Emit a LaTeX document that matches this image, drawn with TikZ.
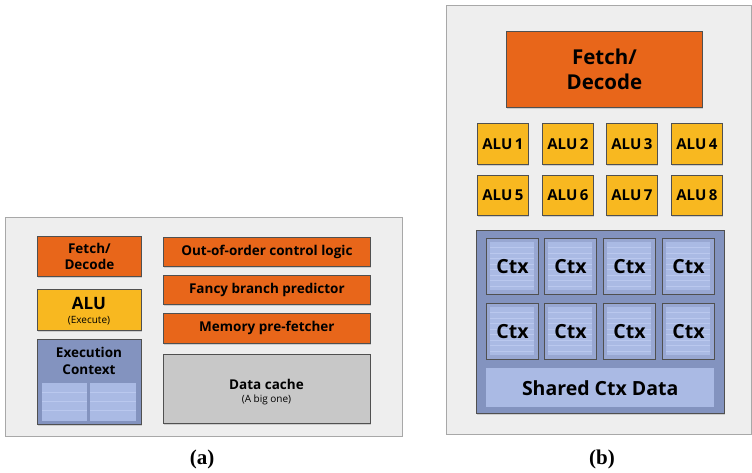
\documentclass[tikz,border=0pt]{standalone}
\usepackage{fontspec}
\setmainfont{Open Sans}
\newfontfamily\capfont{Liberation Serif}
\usetikzlibrary{shadows}
\definecolor{bgc}{HTML}{EEEEEE}
\definecolor{bgline}{HTML}{A8A8A8}
\definecolor{orng}{HTML}{E8661A}
\definecolor{ylw}{HTML}{F8B820}
\definecolor{ctxdark}{HTML}{8393BF}
\definecolor{ctxmid}{HTML}{98A7D2}
\definecolor{ctxlight}{HTML}{AABAE4}
\definecolor{stripe}{HTML}{BAC8EE}
\definecolor{cache}{HTML}{C8C8C8}
\definecolor{edge}{HTML}{505050}
\tikzset{
  panel/.style={draw=bgline, line width=1pt, fill=bgc},
  blk/.style={draw=edge, line width=0.8pt, anchor=north west, inner sep=0pt,
    align=center, font=\bfseries,
    drop shadow={opacity=0.3, shadow xshift=1pt, shadow yshift=-1.2pt}},
  plain/.style={anchor=north west, inner sep=0pt},
  lab/.style={inner sep=0pt, align=center},
  capt/.style={inner sep=0pt, font=\capfont\bfseries\fontsize{21}{23}\selectfont},
  mid/.style={font=\bfseries\fontsize{13.5}{16}\selectfont},
  alut/.style={font=\bfseries\fontsize{15}{17}\selectfont},
  big/.style={font=\bfseries\fontsize{19.5}{21}\selectfont},
  tiny/.style={font=\fontsize{10}{11}\selectfont},
}
\begin{document}
\begin{tikzpicture}[x=1pt,y=-1pt]
\useasboundingbox (0,0) rectangle (752,473);
% ---------- panel (a) ----------
\node[panel, plain, minimum width=397pt, minimum height=219pt] (pa) at (5,217) {};
\node[blk, fill=orng, minimum width=104pt, minimum height=40pt,
  font=\bfseries\fontsize{13.5}{15.5}\selectfont] (afd) at (37,236) {Fetch/\\Decode};
\node[blk, fill=ylw, minimum width=104pt, minimum height=41pt] (aalu) at (37,289) {};
\node[lab, font=\bfseries\fontsize{17}{19}\selectfont] (aalut) at (89,303) {ALU};
\node[lab, tiny] (aalus) at (89,321) {(Execute)};
\node[blk, fill=ctxdark, minimum width=104pt, minimum height=85pt] (aec) at (37,339) {};
\node[lab, font=\bfseries\fontsize{13.5}{17.5}\selectfont] (aect) at (89,361) {Execution\\Context};
\node[plain, fill=ctxlight, minimum width=45pt, minimum height=38pt] (aecl) at (42,383) {};
\node[plain, fill=ctxlight, minimum width=46pt, minimum height=38pt] (aecr) at (90,383) {};
\foreach \yy in {392,401,410}{
  \draw[stripe, line width=0.8pt] (aecl.west |- 0,\yy) -- (aecl.east |- 0,\yy);
  \draw[stripe, line width=0.8pt] (aecr.west |- 0,\yy) -- (aecr.east |- 0,\yy);
}
\node[blk, fill=orng, minimum width=207pt, minimum height=29pt, mid] (aooo) at (163,237) {Out-of-order control logic};
\node[blk, fill=orng, minimum width=207pt, minimum height=29pt, mid] (afbp) at (163,275) {Fancy branch predictor};
\node[blk, fill=orng, minimum width=207pt, minimum height=30pt, mid] (ampf) at (163,313) {Memory pre-fetcher};
\node[blk, fill=cache, minimum width=207pt, minimum height=69pt] (adc) at (163,354) {};
\node[lab, mid] (adct) at (266.5,384) {Data cache};
\node[lab, tiny] (adcs) at (266.5,400) {(A big one)};
\node[capt] (capa) at (202,459) {(a)};
% ---------- panel (b) ----------
\node[panel, plain, minimum width=305pt, minimum height=429pt] (pb) at (446,5) {};
\node[blk, fill=orng, minimum width=196pt, minimum height=76pt,
  font=\bfseries\fontsize{20.5}{25}\selectfont] (bfd) at (506,31) {Fetch/\\Decode};
\foreach \i/\xx in {1/477,2/542,3/606,4/671}{
  \node[blk, fill=ylw, minimum width=51pt, minimum height=41pt, alut] (balu\i) at (\xx,123) {ALU\,\i};
}
\foreach \i/\xx in {5/477,6/542,7/606,8/671}{
  \node[blk, fill=ylw, minimum width=51pt, minimum height=40pt, alut] (balu\i) at (\xx,175) {ALU\,\i};
}
\node[blk, fill=ctxdark, minimum width=248pt, minimum height=183pt] (bctx) at (476,230) {};
\foreach \r/\yy in {1/238,2/303}{
  \foreach \c/\xx in {1/486,2/544,3/603,4/662}{
    \node[plain, draw=edge, line width=0.9pt, fill=ctxmid, minimum width=52pt, minimum height=56pt] (bc\r\c) at (\xx,\yy) {};
    \node[plain, fill=ctxlight, minimum width=44pt, minimum height=48pt] (bci\r\c) at ([xshift=4pt,yshift=-4pt]bc\r\c.north west) {};
    \foreach \k in {1,...,8}{
      \draw[stripe, line width=0.5pt] ([yshift=-\k*5.5pt]bci\r\c.north west) -- ([yshift=-\k*5.5pt]bci\r\c.north east);
    }
    \node[lab, big] (bct\r\c) at (bc\r\c.center) {Ctx};
  }
}
\node[plain, fill=ctxlight, minimum width=228pt, minimum height=39pt, big] (bsh) at (486,368) {Shared Ctx Data};
\node[capt] (capb) at (602,459) {(b)};
\end{tikzpicture}
\end{document}
